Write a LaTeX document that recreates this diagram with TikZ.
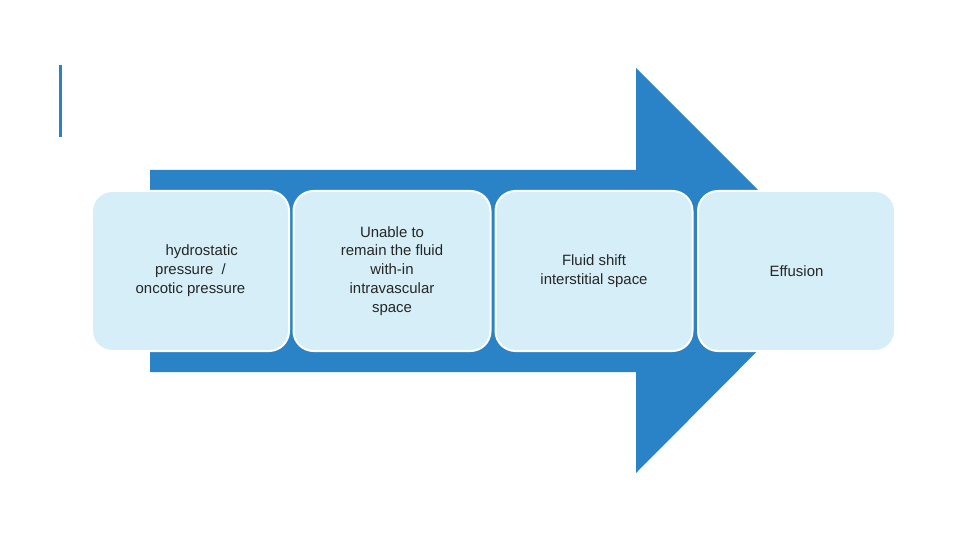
\documentclass[tikz,border=0pt]{standalone}
\usepackage{fontspec}
\setmainfont{Liberation Sans}
\definecolor{arr}{HTML}{2A83C6}
\definecolor{boxf}{HTML}{D5EEF8}
\begin{document}
\begin{tikzpicture}[x=1bp,y=-1bp,
  stepbox/.style={draw=white,line width=2bp,fill=boxf,rounded corners=20bp,minimum width=197bp,minimum height=160bp,align=center,font=\fontsize{15}{19}\selectfont,text=black!85}]
\useasboundingbox (0,0) rectangle (960,540);
\draw[arr,line width=3bp] (60,65) -- (60,137);
\fill[arr] (150,170) -- (636,170) -- (636,68) -- (838,270) -- (636,473) -- (636,372) -- (150,372) -- cycle;
\node[stepbox] (a) at (190.5,271) {\hspace*{1.5em}hydrostatic\\pressure \ /\\oncotic pressure};
\node[stepbox] (b) at (392,271) {Unable to\\remain the fluid\\with-in\\intravascular\\space};
\node[stepbox] (c) at (594,271) {Fluid shift\\interstitial space};
\node[stepbox] (d) at (796.5,271) {Effusion};
\end{tikzpicture}
\end{document}
